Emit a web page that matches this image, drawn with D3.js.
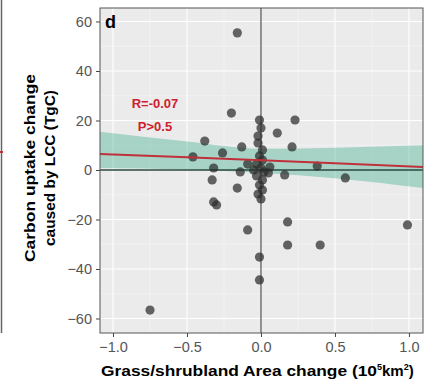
<!DOCTYPE html>
<html>
<head>
<meta charset="utf-8">
<script src="https://cdn.jsdelivr.net/npm/d3@7"></script>
<style>
  body { margin: 0; background: #fff; }
  svg { display: block; font-family: "Liberation Sans", Arial, sans-serif; }
</style>
</head>
<body>
<div id="chart"></div>
<script>
// points (area change 10^5 km^2, carbon uptake change TgC)
const areaChange = [
  -0.16, -0.20, 0.23, 0.11, 0.21, -0.38, -0.13, -0.46, -0.26, -0.32,
  -0.33, -0.16, -0.32, -0.30, -0.09, 0.18, 0.18, 0.40, 0.99, -0.01,
  -0.01, -0.75, 0.57, 0.38, 0.16, 0.05, 0.06,
  -0.01, 0.00, -0.02, -0.02, 0.01, -0.01, 0.01, -0.03, 0.00, 0.02,
  -0.03, 0.01, -0.01, 0.01, -0.02, 0.00, -0.05, -0.09, -0.14
];
const uptakeChange = [
  55.4, 23.0, 20.2, 14.9, 9.3, 11.7, 9.3, 5.3, 6.9, 0.8,
  -4.0, -7.3, -12.9, -14.1, -24.2, -21.0, -30.3, -30.3, -22.2, -35.2,
  -44.4, -56.6, -3.2, 1.6, -2.0, -1.2, 1.2,
  20.2, 17.0, 13.7, 10.9, 8.1, 5.7, 4.0, 2.4, 0.8, -0.8,
  -2.4, -4.0, -6.1, -8.1, -9.7, -11.7, 0.0, 2.4, -0.8
];

// fitted line and its confidence band
const fitX = [-1.088, -0.5, 0, 0.5, 1.095];
const fitY = [6.5, 5.1, 3.9, 2.7, 1.2];
const bandLow = [0.8, 0.2, -1.2, -3.3, -7.3];
const bandHigh = [15.5, 11.5, 8.6, 9.0, 10.0];

const xTicks = [-1.0, -0.5, 0.0, 0.5, 1.0];
const yTicks = [-60, -40, -20, 0, 20, 40, 60];
const xMinor = [-0.75, -0.25, 0.25, 0.75];
const yMinor = [-50, -30, -10, 10, 30, 50];

const statLines = ["R=-0.07", "P>0.5"];

const width = 438, height = 385;
const margin = { top: 8, right: 15, bottom: 52, left: 100 };

const svg = d3.select("#chart").append("svg")
  .attr("width", width)
  .attr("height", height);

const x = d3.scaleLinear().domain([-1.088, 1.095]).range([margin.left, width - margin.right]);
const y = d3.scaleLinear().domain([-65.86, 65.45]).range([height - margin.bottom, margin.top]);

// edge of the neighbouring panel
svg.append("line")
  .attr("x1", 1.5).attr("x2", 1.5).attr("y1", 0).attr("y2", 333)
  .attr("stroke", "#666").attr("stroke-width", 1.5);
svg.append("line")
  .attr("x1", 0).attr("x2", 3).attr("y1", 152).attr("y2", 152)
  .attr("stroke", "#c0303a").attr("stroke-width", 2);

// panel background
svg.append("rect")
  .attr("x", x.range()[0]).attr("y", y.range()[1])
  .attr("width", x.range()[1] - x.range()[0])
  .attr("height", y.range()[0] - y.range()[1])
  .attr("fill", "#ebebeb");

const grid = svg.append("g");
grid.selectAll(".xminor").data(xMinor).join("line")
  .attr("x1", d => x(d)).attr("x2", d => x(d))
  .attr("y1", y.range()[1]).attr("y2", y.range()[0])
  .attr("stroke", "#f7f7f7").attr("stroke-width", 0.6);
grid.selectAll(".yminor").data(yMinor).join("line")
  .attr("y1", d => y(d)).attr("y2", d => y(d))
  .attr("x1", x.range()[0]).attr("x2", x.range()[1])
  .attr("stroke", "#f7f7f7").attr("stroke-width", 0.6);
grid.selectAll(".xmajor").data(xTicks).join("line")
  .attr("x1", d => x(d)).attr("x2", d => x(d))
  .attr("y1", y.range()[1]).attr("y2", y.range()[0])
  .attr("stroke", "#fff").attr("stroke-width", 1.1);
grid.selectAll(".ymajor").data(yTicks).join("line")
  .attr("y1", d => y(d)).attr("y2", d => y(d))
  .attr("x1", x.range()[0]).attr("x2", x.range()[1])
  .attr("stroke", "#fff").attr("stroke-width", 1.1);

// confidence band
const band = fitX.map((d, i) => ({ x: d, lo: bandLow[i], hi: bandHigh[i] }));
svg.append("path")
  .datum(band)
  .attr("d", d3.area().x(d => x(d.x)).y0(d => y(d.lo)).y1(d => y(d.hi)).curve(d3.curveMonotoneX))
  .attr("fill", "#48b394")
  .attr("fill-opacity", 0.42);

// reference lines
svg.append("line")
  .attr("x1", x(0)).attr("x2", x(0))
  .attr("y1", y.range()[1]).attr("y2", y.range()[0])
  .attr("stroke", "#5a5a5a").attr("stroke-width", 1.3);
svg.append("line")
  .attr("x1", x.range()[0]).attr("x2", x.range()[1])
  .attr("y1", y(0)).attr("y2", y(0))
  .attr("stroke", "#29463f").attr("stroke-width", 1.6);

// points
svg.append("g").selectAll("circle")
  .data(areaChange.map((d, i) => [d, uptakeChange[i]]))
  .join("circle")
  .attr("cx", d => x(d[0]))
  .attr("cy", d => y(d[1]))
  .attr("r", 4.6)
  .attr("fill", "#2b2b2b")
  .attr("fill-opacity", 0.72);

// fitted line
svg.append("path")
  .datum(fitX.map((d, i) => [d, fitY[i]]))
  .attr("d", d3.line().x(d => x(d[0])).y(d => y(d[1])))
  .attr("fill", "none")
  .attr("stroke", "#c0303a")
  .attr("stroke-width", 2);

// panel border
svg.append("rect")
  .attr("x", x.range()[0]).attr("y", y.range()[1])
  .attr("width", x.range()[1] - x.range()[0])
  .attr("height", y.range()[0] - y.range()[1])
  .attr("fill", "none")
  .attr("stroke", "#555").attr("stroke-width", 1);

// axes
const xAxis = svg.append("g")
  .attr("transform", `translate(0,${y.range()[0]})`)
  .call(d3.axisBottom(x).tickValues(xTicks).tickFormat(d3.format(".1f")).tickSize(4).tickPadding(5));
const yAxis = svg.append("g")
  .attr("transform", `translate(${x.range()[0]},0)`)
  .call(d3.axisLeft(y).tickValues(yTicks).tickFormat(d3.format("d")).tickSize(4).tickPadding(4));
[xAxis, yAxis].forEach(a => {
  a.select(".domain").remove();
  a.selectAll(".tick line").attr("stroke", "#444");
  a.selectAll("text").attr("fill", "#555").attr("font-family", null).style("font-size", "14.5px");
});

// panel letter and stats
svg.append("text")
  .attr("x", 105).attr("y", 28)
  .style("font-size", "18px").style("font-weight", "bold")
  .text("d");

svg.append("g").selectAll("text").data(statLines).join("text")
  .attr("x", 155)
  .attr("y", (d, i) => 108 + i * 23)
  .attr("text-anchor", "middle")
  .attr("fill", "#d0202e")
  .style("font-size", "13px").style("font-weight", "bold")
  .text(d => d);

// axis titles
const yTitle = svg.append("text")
  .attr("transform", `translate(0,168) rotate(-90)`)
  .attr("text-anchor", "middle")
  .style("font-size", "15px").style("font-weight", "bold");
yTitle.append("tspan").attr("x", 0).attr("y", 35)
  .attr("textLength", 188).attr("lengthAdjust", "spacingAndGlyphs")
  .text("Carbon uptake change");
yTitle.append("tspan").attr("x", 0).attr("y", 55)
  .attr("textLength", 156).attr("lengthAdjust", "spacingAndGlyphs")
  .text("caused by LCC (TgC)");

const xTitle = svg.append("text")
  .attr("x", 101).attr("y", 376)
  .style("font-size", "15px").style("font-weight", "bold");
xTitle.append("tspan")
  .attr("textLength", 276).attr("lengthAdjust", "spacingAndGlyphs")
  .text("Grass/shrubland Area change (10");
xTitle.append("tspan").attr("dy", -6).style("font-size", "9px").text("5");
xTitle.append("tspan").attr("dy", 6).text("km");
xTitle.append("tspan").attr("dy", -6).style("font-size", "9px").text("2");
xTitle.append("tspan").attr("dy", 6).text(")");
</script>
</body>
</html>
